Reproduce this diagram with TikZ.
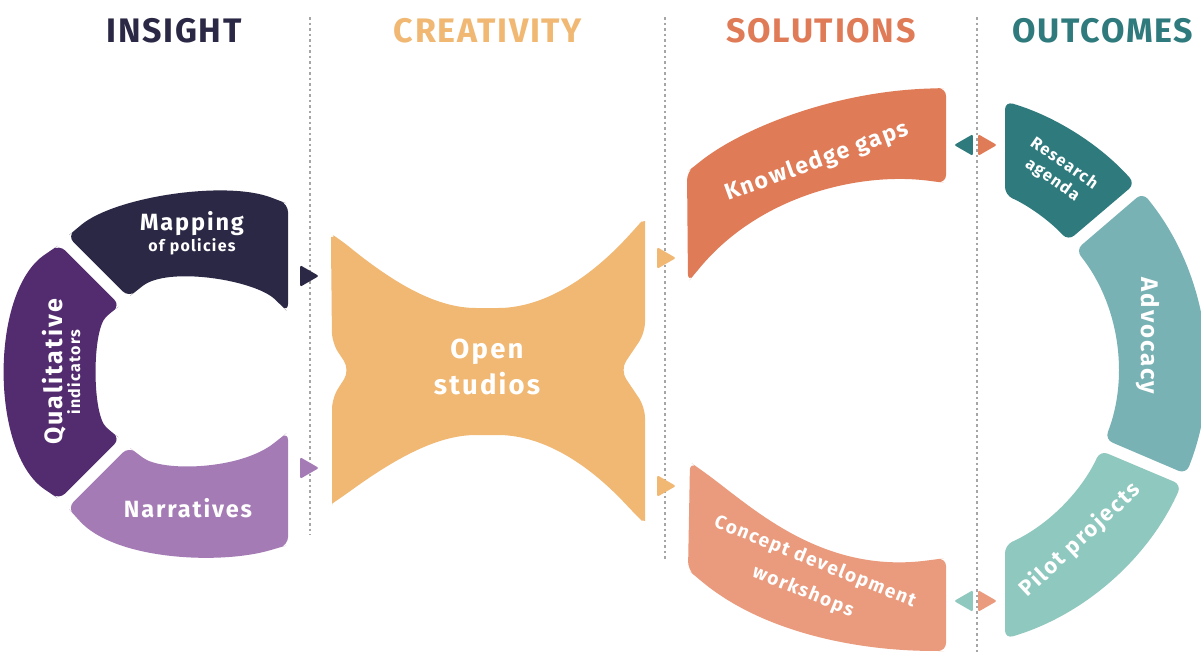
\documentclass[tikz,border=0pt]{standalone}
\usepackage{fontspec}
\setmainfont{Fira Sans}
\newfontfamily\headfont{Fira Sans}[LetterSpace=5]
\newfontfamily\labfont{Fira Sans}[LetterSpace=8]
\usetikzlibrary{shapes.geometric,calc}

\definecolor{navy}{HTML}{2B2845}
\definecolor{plum}{HTML}{532C70}
\definecolor{lilac}{HTML}{A47BB4}
\definecolor{sand}{HTML}{F0B872}
\definecolor{coral}{HTML}{E07B57}
\definecolor{salmon}{HTML}{EA9A7D}
\definecolor{deepteal}{HTML}{2F7A7D}
\definecolor{seafoam}{HTML}{79B2B4}
\definecolor{mint}{HTML}{8FC8BE}
\newcommand\lsize[2]{\labfont\bfseries\fontsize{#1}{#2}\selectfont}

\begin{document}
\begin{tikzpicture}[x=1pt,y=-1pt,
  head/.style={font=\headfont\bfseries\fontsize{34}{34}\selectfont,anchor=base},
  lab/.style={text=white,align=center,inner sep=0pt},
  sep/.style={draw=black!35,line width=1.3pt,dash pattern=on 2.5pt off 3pt},
  blob/.style={rounded corners=8pt},
  tip/.style={regular polygon,regular polygon sides=3,minimum size=25pt,inner sep=0pt,rounded corners=1.5pt}]
\clip (0,0) rectangle (1201,653);
\fill[white] (0,0) rectangle (1201,653);

% column titles
\node[head,text=navy] (insight) at (174,42) {INSIGHT};
\node[head,text=sand] (creativity) at (488,42) {CREATIVITY};
\node[head,text=coral] (solutions) at (821,42) {SOLUTIONS};
\node[head,text=deepteal] (outcomes) at (1103,42) {OUTCOMES};

\draw[sep] (310,17) -- (310,535);
\draw[sep] (665,17) -- (665,560);
\draw[sep] (977,17) -- (977,653);

% insight ring
\fill[navy,blob] (98.1,266.7) -- (67.7,236.3) -- (75.3,229.8) .. controls (115,197) and (225,180) .. (278.7,200.4)
  -- (288,204) -- (288,312) -- (280.8,305) .. controls (255,280) and (168,266) .. (136.4,290.9)
  -- (128.5,297.1) -- cycle;
\fill[plum,blob] (89.7,275.1) -- (120.1,305.5) -- (112,311.4) .. controls (92,330) and (92,414) .. (112,432.6)
  -- (120.1,438.5) -- (59.3,499.3) -- (51,493.7) .. controls (-10,452) and (-10,292) .. (51,250.4)
  -- (59.3,244.7) -- cycle;
\fill[lilac,blob] (98.1,477.3) -- (128.5,446.9) -- (136.5,452.9) .. controls (162,472) and (240,470) .. (280.2,438.2)
  -- (288,432) -- (288,545) -- (278.4,547.8) .. controls (220,565) and (115,560) .. (74.4,515.1)
  -- (67.7,507.7) -- cycle;

\node[lab,font=\lsize{23.5}{21}] (mapping) at (192,233) {Mapping\\{\fontsize{16}{21}\selectfont of policies}};
\node[lab,font=\lsize{25}{18},rotate=90] (quali) at (61,372) {Qualitative\\{\fontsize{16}{18}\selectfont indicators}};
\node[lab,font=\lsize{23.5}{23.5}] (narr) at (188,508) {Narratives};

% creativity
\fill[sand,rounded corners=11pt] (331.5,290) -- (331,248) .. controls (331,237) and (336,237) .. (342,241)
  .. controls (400,288) and (440,308) .. (487,308)
  .. controls (535,308) and (580,288) .. (634,230) .. controls (641,222) and (645,221) .. (645,232)
  -- (645,333) -- (620,370) -- (645,407) -- (645,510)
  .. controls (645,521) and (641,520) .. (634,513) .. controls (580,455) and (535,435) .. (487,435)
  .. controls (440,435) and (400,455) .. (342,497) .. controls (336,501) and (332,502) .. (332,494)
  -- (332,398) -- (350,370) -- (332,343) -- cycle;
\node[lab,font=\lsize{27.5}{36}] (studios) at (487,367) {Open\\studios};

% solutions
\fill[coral,blob] (687.5,227) -- (687,172) -- (694.8,165.8) .. controls (740,130) and (830,92) .. (936,88.3)
  -- (946,88) -- (946,183) -- (936.1,181.7) .. controls (860,172) and (760,195) .. (694.4,274.3)
  -- (688,282) -- cycle;
\fill[salmon,blob] (689,516) -- (690,462) -- (698.1,467.8) .. controls (750,505) and (820,575) .. (936.1,559.3)
  -- (946,558) -- (946,651) -- (936,651) .. controls (850,650) and (760,630) .. (695.7,576.4)
  -- (688,570) -- cycle;
\node[lab,font=\lsize{23}{23},rotate=20] (gaps) at (817,162) {Knowledge gaps};
\node[lab,font=\lsize{19}{32},rotate=-22] (concept) at (809,577) {Concept development\\workshops};

% outcomes ring
\coordinate (oc) at (926,370);
\fill[deepteal,blob] ($(oc)+(-73.6:280)$) arc[start angle=-73.6,end angle=-41.7,radius=280]
  -- ($(oc)+(-42.3:192)$) arc[start angle=-42.3,end angle=-65.7,radius=192] -- cycle;
\fill[seafoam,blob] ($(oc)+(-39.3:280)$) arc[start angle=-39.3,end angle=21.8,radius=280]
  -- ($(oc)+(21.2:192)$) arc[start angle=21.2,end angle=-38.7,radius=192] -- cycle;
\fill[mint,blob] ($(oc)+(24.2:280)$) arc[start angle=24.2,end angle=73.6,radius=280]
  -- ($(oc)+(65.7:192)$) arc[start angle=65.7,end angle=24.8,radius=192] -- cycle;
\node[lab,font=\lsize{16.5}{20},rotate=-35] (research) at (1058,172) {Research\\agenda};
\node[lab,font=\lsize{24}{24},rotate=-90] (advocacy) at (1148,336) {Advocacy};
\node[lab,font=\lsize{22}{22},rotate=43] (pilot) at (1080,540) {Pilot projects};

% arrow tips between the columns
\node[tip,fill=navy,shape border rotate=-90] (tipmap) at (306.4,276) {};
\node[tip,fill=lilac,shape border rotate=-90] (tipnarr) at (306.4,468) {};
\node[tip,fill=sand,shape border rotate=-90] (tipup) at (663.4,258) {};
\node[tip,fill=sand,shape border rotate=-90] (tipdown) at (663.4,486) {};
\node[tip,fill=deepteal,shape border rotate=90] (tipres) at (966.6,145) {};
\node[tip,fill=coral,shape border rotate=-90] (tipgaps) at (984.4,145) {};
\node[tip,fill=mint,shape border rotate=90] (tippilot) at (966.6,601) {};
\node[tip,fill=salmon,shape border rotate=-90] (tipconc) at (984.4,601) {};
\end{tikzpicture}
\end{document}
